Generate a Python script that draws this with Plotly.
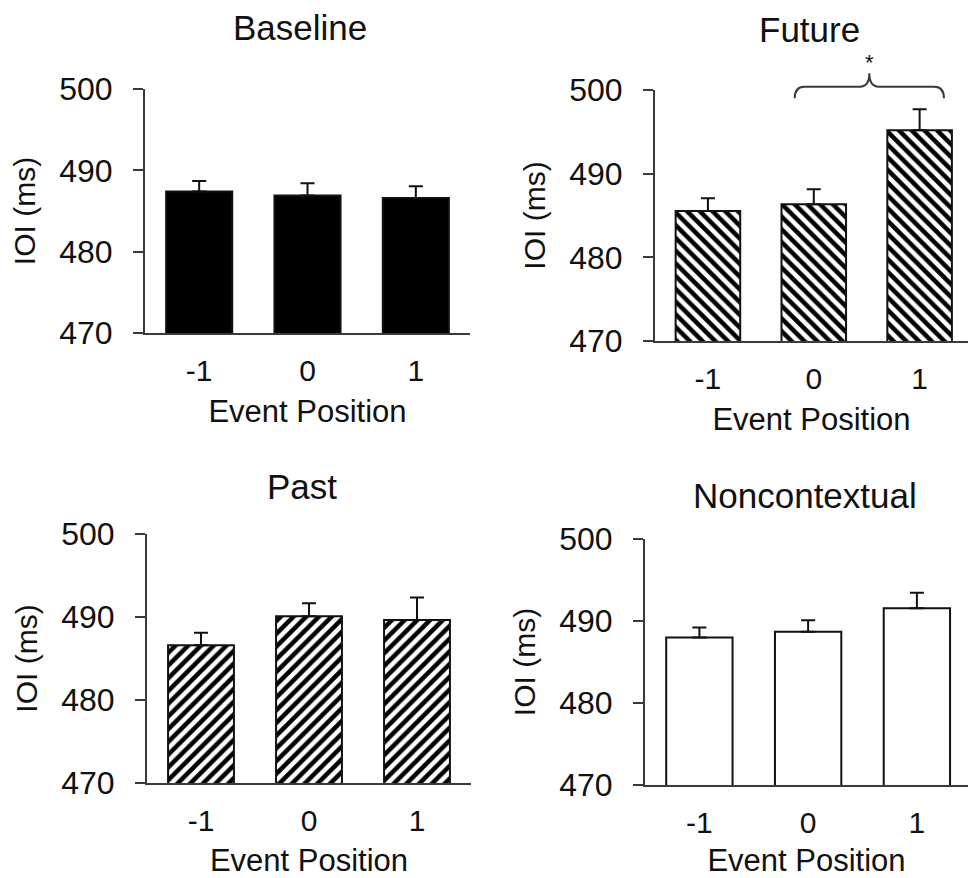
import plotly.graph_objects as go

categories = ["-1", "0", "1"]
panel_titles = ["Baseline", "Future", "Past", "Noncontextual"]

baseline_mean = [487.4, 486.9, 486.6]
baseline_err = [1.3, 1.5, 1.45]
future_mean = [485.55, 486.35, 495.2]
future_err = [1.5, 1.8, 2.5]
past_mean = [486.6, 490.1, 489.65]
past_err = [1.5, 1.55, 2.7]
noncon_mean = [488.0, 488.7, 491.55]
noncon_err = [1.2, 1.4, 1.9]

y_ticks = [470, 480, 490, 500]
y_range = [470, 500]

FONT = "Arial, Liberation Sans, sans-serif"
INK = "#111111"
AXC = "#3a3a3a"

pos = list(range(len(categories)))

def bar(means, errs, ax, fill, pattern=None):
    marker = dict(color=fill, line=dict(color=INK, width=2))
    if pattern:
        marker["pattern"] = dict(shape=pattern, fgcolor="black", bgcolor="white",
                                 size=9, solidity=0.5, fillmode="overlay", fgopacity=1)
    return go.Bar(x=pos, y=means, width=0.61, marker=marker,
                  error_y=dict(type="data", array=errs, arrayminus=[0] * len(errs),
                               symmetric=False, color=INK, thickness=2, width=7),
                  xaxis="x" + ax, yaxis="y" + ax, showlegend=False)

fig = go.Figure()
fig.add_trace(bar(baseline_mean, baseline_err, "", "black"))
fig.add_trace(bar(future_mean, future_err, "2", "white", "\\"))
fig.add_trace(bar(past_mean, past_err, "3", "white", "/"))
fig.add_trace(bar(noncon_mean, noncon_err, "4", "white"))

W, H = 968, 878
panels = {
    "": dict(x=(145, 470), y=(89, 333), xr=[-0.5, 2.5]),
    "2": dict(x=(655, 968), y=(90, 341), xr=[-0.5, 2.457]),
    "3": dict(x=(147, 471), y=(534, 783), xr=[-0.5, 2.5]),
    "4": dict(x=(645, 968), y=(539, 785), xr=[-0.5, 2.47]),
}

layout = dict(width=W, height=H, margin=dict(l=0, r=0, t=0, b=0, autoexpand=False),
              template="none",
              paper_bgcolor="white", plot_bgcolor="white",
              font=dict(family=FONT, color=INK), bargap=0.4)

for k, p in panels.items():
    xd = [p["x"][0] / W, p["x"][1] / W]
    yd = [1 - p["y"][1] / H, 1 - p["y"][0] / H]
    layout["xaxis" + k] = dict(domain=xd, range=p["xr"], tickvals=pos, ticktext=categories,
                               showline=True, linecolor=AXC, linewidth=2, ticks="",
                               showgrid=False, zeroline=False, automargin=False,
                               tickfont=dict(size=30, family=FONT, color=INK),
                               ticklabelstandoff=10,
                               title=dict(text="Event Position", standoff=14,
                                          font=dict(size=31, family=FONT, color=INK)),
                               anchor="y" + k, fixedrange=True)
    layout["yaxis" + k] = dict(domain=yd, range=y_range, tickvals=y_ticks,
                               showline=True, linecolor=AXC, linewidth=2,
                               ticks="outside", ticklen=10, tickwidth=2, tickcolor=AXC,
                               showgrid=False, zeroline=False, automargin=False,
                               tickfont=dict(size=32, family=FONT, color=INK),
                               ticklabelstandoff=14,
                               title=dict(text="IOI (ms)", standoff=15,
                                          font=dict(size=30, family=FONT, color=INK)),
                               anchor="x" + k, fixedrange=True)

fig.update_layout(**layout)

title_pos = [(300, 28), (809, 30), (302, 487), (805, 495)]
for t, (tx, ty) in zip(panel_titles, title_pos):
    fig.add_annotation(text=t, x=tx / W, y=1 - ty / H, xref="paper", yref="paper",
                       showarrow=False, xanchor="center", yanchor="middle",
                       font=dict(size=35, family=FONT, color=INK))

# significance bracket on the Future panel (between positions 0 and 1)
def yd2(v):
    return (v - y_range[0]) / (y_range[1] - y_range[0])

x0, x1 = 0.82, 2.23
xm = (x0 + x1) / 2
yb, yh, yt = yd2(499.0), yd2(500.4), yd2(502.0)
dx = 0.09
path = (f"M {x0},{yb} Q {x0},{yh} {x0+dx},{yh} L {xm-dx},{yh} Q {xm},{yh} {xm},{yt} "
        f"Q {xm},{yh} {xm+dx},{yh} L {x1-dx},{yh} Q {x1},{yh} {x1},{yb}")
fig.add_shape(type="path", path=path, xref="x2", yref="y2 domain",
              line=dict(color=AXC, width=2))
fig.add_annotation(text="*", x=xm, y=yd2(503.3), xref="x2", yref="y2 domain",
                   showarrow=False, font=dict(size=22, family=FONT, color=INK),
                   yanchor="middle")

fig.write_html("out.html")
